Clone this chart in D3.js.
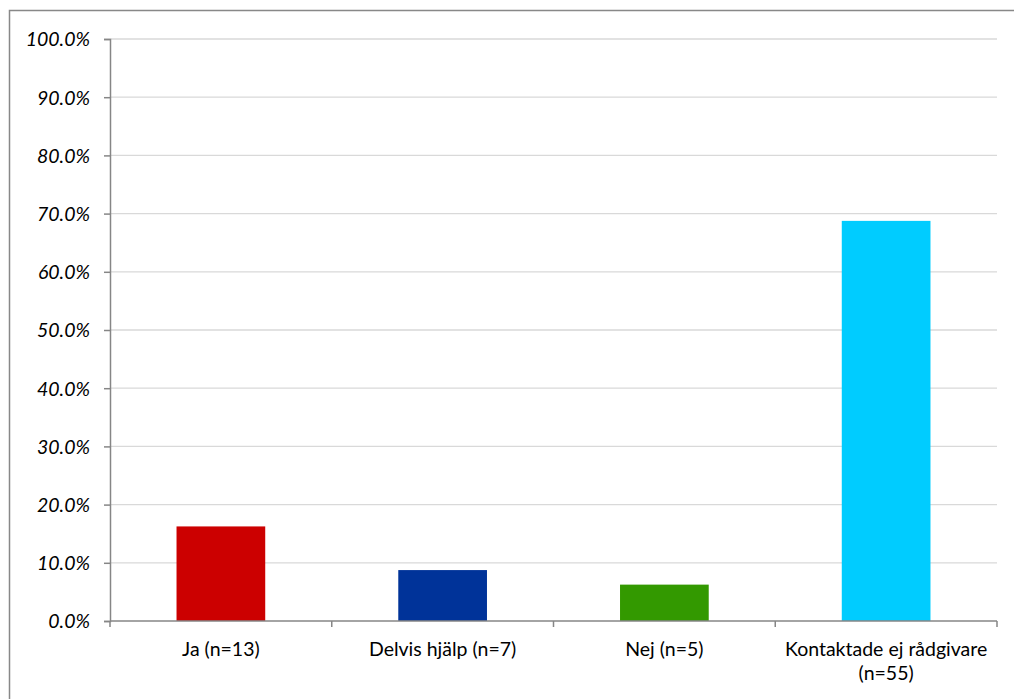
<!DOCTYPE html>
<html><head><meta charset="utf-8">
<script src="https://cdn.jsdelivr.net/npm/d3@7"></script>
<style>body{margin:0;background:#fff}svg{display:block}</style>
</head><body>
<script>
const categories = [["Ja (n=13)"], ["Delvis hjälp (n=7)"], ["Nej (n=5)"], ["Kontaktade ej rådgivare", "(n=55)"]];
const values = [16.25, 8.75, 6.25, 68.75];
const colors = ["#CC0000", "#003399", "#339900", "#00CCFF"];
const yTicks = [0, 10, 20, 30, 40, 50, 60, 70, 80, 90, 100];

const W = 1014, H = 699;
const FONT = "Lato, 'Open Sans', sans-serif";
const svg = d3.select("body").append("svg").attr("width", W).attr("height", H);
svg.append("rect").attr("x", 9.5).attr("y", 10.5).attr("width", 1010).attr("height", 700)
  .attr("fill", "#fff").attr("stroke", "#888").attr("stroke-width", 1.5);

const x0 = 110, x1 = 997, yTop = 39, yBot = 621;
const x = d3.scaleBand().domain(d3.range(categories.length)).range([x0, x1]).paddingInner(0.6).paddingOuter(0.3);
const y = d3.scaleLinear().domain([0, 100]).range([yBot, yTop]);

// grid
svg.append("g").selectAll("line").data(yTicks.filter(d => d > 0)).join("line")
  .attr("x1", x0).attr("x2", x1).attr("y1", d => y(d)).attr("y2", d => y(d))
  .attr("stroke", "#d9d9d9").attr("stroke-width", 1.3);

// bars
svg.append("g").selectAll("rect").data(values).join("rect")
  .attr("x", (d, i) => x(i)).attr("width", x.bandwidth())
  .attr("y", d => y(d)).attr("height", d => yBot - y(d))
  .attr("fill", (d, i) => colors[i]);

// y axis
const ya = svg.append("g").attr("transform", `translate(${x0},0)`)
  .call(d3.axisLeft(y).tickValues(yTicks).tickSize(6).tickFormat(d => d.toFixed(1) + "%"));
ya.attr("font-size", null).attr("font-family", null);
ya.select(".domain").attr("stroke", "#868686").attr("stroke-width", 1.5);
ya.selectAll(".tick line").attr("stroke", "#868686").attr("stroke-width", 1.5);
ya.selectAll(".tick text").attr("x", -20).attr("dy", "0.35em").attr("font-family", FONT)
  .attr("font-size", 19.5).attr("font-style", "italic").attr("fill", "#000");

// x axis
const bw = (x1 - x0) / categories.length;
const xa = svg.append("g");
xa.append("line").attr("x1", x0).attr("x2", x1).attr("y1", yBot).attr("y2", yBot)
  .attr("stroke", "#868686").attr("stroke-width", 1.5);
const tickXs = d3.range(categories.length + 1).map(i => x0 + i * bw);
xa.selectAll("line.t").data(tickXs).join("line").attr("class", "t")
  .attr("x1", d => d).attr("x2", d => d).attr("y1", yBot).attr("y2", yBot + 6)
  .attr("stroke", "#868686").attr("stroke-width", 1.5);

const lbl = svg.append("g").selectAll("text").data(categories).join("text")
  .attr("text-anchor", "middle")
  .attr("font-family", FONT).attr("font-size", 19.5).attr("fill", "#000");
lbl.each(function(d, i) {
  const t = d3.select(this);
  d.forEach((line, j) => {
    t.append("tspan").attr("x", x(i) + x.bandwidth() / 2).attr("y", 656 + j * 24).text(line);
  });
});
</script>
</body></html>
